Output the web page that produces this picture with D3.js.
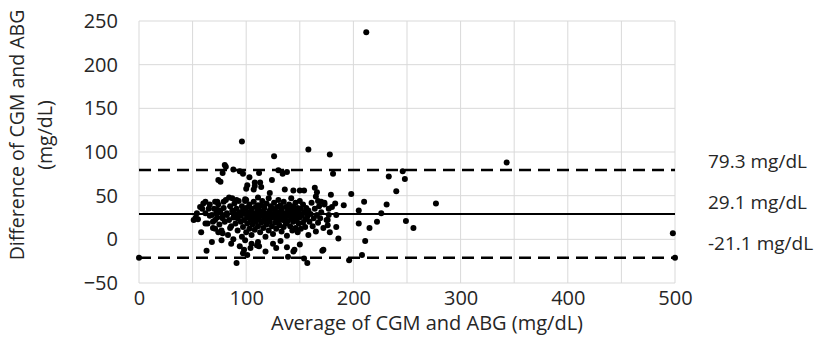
<!DOCTYPE html>
<html>
<head>
<meta charset="utf-8">
<script src="https://cdn.jsdelivr.net/npm/d3@7"></script>
<style>
  body { margin: 0; background: #fff; }
  text { font-family: "Open Sans", sans-serif; fill: #262626; }
</style>
</head>
<body>
<svg id="chart" width="825" height="337"></svg>
<script>
// tick values
var xTicks = [0, 100, 200, 300, 400, 500];
var yTicks = [-50, 0, 50, 100, 150, 200, 250];

// mean bias and limits of agreement
var meanDiff = 29.1;
var upperLoA = 79.3;
var lowerLoA = -21.1;
var limitLabels = ["79.3 mg/dL", "29.1 mg/dL", "-21.1 mg/dL"];

// [average, difference]
var sparsePoints = [
  [212, 237], [498, 7], [500, -21], [0, -21], [343, 88], [277, 41],
  [246, 78], [248, 69], [249, 21], [256, 13], [233, 72], [240, 55], [231, 40],
  [178, 97], [181, 75], [179, 51], [198, 52], [170, 43], [183, 41], [191, 39],
  [210, 43], [177, 35], [205, 33], [226, 30], [177, 28], [184, 28], [176, 22],
  [176, 16], [184, 14], [205, 18], [215, 13], [222, 20], [186, 1], [211, -2],
  [171, -13], [196, -24], [208, -18], [157, -27], [91, -27], [96, 112],
  [126, 95], [158, 103]
];

var clusterPoints = [
  [81, 83], [78, 76], [88, 80], [94, 78], [97, 75], [74, 68], [76, 66],
  [103, 71], [112, 76], [130, 79], [134, 75], [124, 68], [101, 62], [100, 58],
  [113, 65], [114, 60], [136, 57], [144, 56], [150, 56], [154, 56], [164, 59],
  [166, 54], [165, 49], [173, 42], [180, 37], [108, 65], [108, 61], [138, 77],
  [107, 57], [80, 85], [122, 53], [167, 44],
  [51, 22], [53, 25], [57, 37], [60, 41], [71, 43], [73, 34], [62, 18],
  [69, 13], [74, 8], [58, 8], [54, 30], [55, 23], [59, 35], [66, 27], [71, 22],
  [78, 24], [82, 28], [88, 30], [78, 7], [85, 13], [96, 3], [99, -1],
  [105, -5], [104, -10], [68, -3], [63, -13], [97, -16], [77, -1], [110, -7],
  [111, -3], [138, -9], [144, -14], [139, -20], [154, -22], [172, -12],
  [62, 43], [73, 43], [79, 43], [87, 47], [91, 45], [99, 44], [100, 45],
  [111, 39],
  [62, 30], [64, 18], [65, 35], [66, 40], [68, 28], [69, 20], [70, 35],
  [71, 12], [72, 30], [73, 25], [74, 40], [75, 17], [76, 33], [77, 10],
  [78, 28], [79, 36], [80, 20], [81, 45], [83, 5], [84, 48], [86, -5],
  [88, 0], [94, -8], [98, -12], [101, -18], [112, -8], [118, -14], [125, -5],
  [128, -10], [132, -2], [145, -12], [150, -6],
  [82, 30], [84, 22], [85, 38], [86, 15], [87, 33], [88, 25], [89, 41],
  [90, 18], [90, 29], [91, 35], [92, 10], [92, 24], [93, 44], [94, 31],
  [95, 20], [95, 27], [96, 38], [97, 14], [97, 33], [98, 22], [99, 29],
  [99, 46], [100, 8], [100, 36], [101, 25], [101, 18], [102, 31], [103, 40],
  [103, 12], [104, 27], [104, 22], [105, 35], [105, 5], [106, 30], [106, 17],
  [107, 43], [107, 24], [108, 28], [108, 11], [109, 37], [109, 20], [110, 32],
  [110, 26], [111, 15], [111, 48], [112, 23], [112, 34], [113, 29], [113, 8],
  [114, 39], [114, 19], [115, 27], [115, 44], [116, 13], [116, 31], [117, 22],
  [117, 36], [118, 26], [118, 3], [119, 41], [119, 17], [120, 30], [120, 24],
  [121, 47], [121, 10], [122, 33], [122, 20], [123, 28], [123, 38], [124, 15],
  [124, 25], [125, 35], [125, 6], [126, 29], [126, 42], [127, 19], [127, 32],
  [128, 23], [128, 12], [129, 37], [129, 27], [130, 21], [130, 45], [131, 31],
  [131, 16], [132, 26], [132, 39], [133, 9], [133, 34], [134, 22], [134, 29],
  [135, 43], [135, 14], [136, 30], [136, 24], [137, 37], [137, 18], [138, 27],
  [138, 4], [139, 33], [139, 21], [140, 40], [140, 28], [141, 15], [141, 35],
  [142, 24], [142, 47], [143, 30], [143, 10], [144, 20], [144, 38], [145, 26],
  [145, 33], [146, 13], [146, 42], [147, 22], [147, 29], [148, 36], [148, 8],
  [149, 18], [149, 31], [150, 25], [150, 44], [151, 12], [151, 35], [152, 28],
  [153, 19], [153, 40], [154, 31], [155, 14], [155, 23], [156, 36], [157, 26],
  [158, 5], [158, 33], [159, 20], [160, 29], [161, 42], [162, 15], [163, 24],
  [164, 35], [165, 9], [166, 28], [167, 19], [168, 38], [169, 24], [170, 31],
  [172, 13], [173, 40], [175, 22], [178, 8]
];

var margin = {top: 21, right: 150, bottom: 54, left: 139};
var width = 825 - margin.left - margin.right;
var height = 337 - margin.top - margin.bottom;

var svg = d3.select("#chart");
var g = svg.append("g")
  .attr("transform", "translate(" + margin.left + "," + margin.top + ")");

var x = d3.scaleLinear().domain([0, 500]).range([0, width]);
var y = d3.scaleLinear().domain([-50, 250]).range([height, 0]);

// gridlines every 50
g.append("g")
  .selectAll("line")
  .data(d3.range(0, 501, 50))
  .enter().append("line")
  .attr("x1", function(d) { return x(d); })
  .attr("x2", function(d) { return x(d); })
  .attr("y1", 0)
  .attr("y2", height)
  .attr("stroke", "#d9d9d9")
  .attr("stroke-width", 1);

g.append("g")
  .selectAll("line")
  .data(yTicks)
  .enter().append("line")
  .attr("x1", 0)
  .attr("x2", width)
  .attr("y1", function(d) { return y(d); })
  .attr("y2", function(d) { return y(d); })
  .attr("stroke", "#d9d9d9")
  .attr("stroke-width", 1);

// axes (labels only)
var xAxis = g.append("g")
  .attr("transform", "translate(0," + height + ")")
  .call(d3.axisBottom(x).tickValues(xTicks).tickSize(0).tickPadding(8));
xAxis.select(".domain").remove();
xAxis.selectAll("text").style("font-size", "20px").style("font-family", "Open Sans").attr("fill", "#262626");

var yAxis = g.append("g")
  .call(d3.axisLeft(y).tickValues(yTicks).tickSize(0).tickPadding(21));
yAxis.select(".domain").remove();
yAxis.selectAll("text").style("font-size", "20px").style("font-family", "Open Sans").attr("fill", "#262626");

// limit lines
g.append("line")
  .attr("x1", x(0)).attr("x2", x(500))
  .attr("y1", y(meanDiff)).attr("y2", y(meanDiff))
  .attr("stroke", "#000").attr("stroke-width", 2);

[upperLoA, lowerLoA].forEach(function(v) {
  g.append("line")
    .attr("x1", x(0)).attr("x2", x(500))
    .attr("y1", y(v)).attr("y2", y(v))
    .attr("stroke", "#000").attr("stroke-width", 2.5)
    .attr("stroke-dasharray", "12,7");
});

// points
g.append("g")
  .selectAll("circle")
  .data(sparsePoints.concat(clusterPoints))
  .enter().append("circle")
  .attr("cx", function(d) { return x(d[0]); })
  .attr("cy", function(d) { return y(d[1]); })
  .attr("r", 3)
  .attr("fill", "#000");

// right-hand labels
var labelYs = [upperLoA, meanDiff, lowerLoA];
g.selectAll(".limit-label")
  .data(limitLabels)
  .enter().append("text")
  .attr("class", "limit-label")
  .attr("x", width + 33)
  .attr("y", function(d, i) { return y(labelYs[0]) - 9 + i * 41; })
  .attr("dy", "0.35em")
  .style("font-size", "19px")
  .text(function(d) { return d; });

// axis titles
svg.append("text")
  .attr("text-anchor", "middle")
  .attr("x", 427)
  .attr("y", 330)
  .style("font-size", "20px")
  .text("Average of CGM and ABG (mg/dL)");

var yTitle = svg.append("text")
  .attr("text-anchor", "middle")
  .attr("transform", "translate(17,135) rotate(-90)")
  .style("font-size", "19.5px");
yTitle.append("tspan").attr("x", 0).attr("dy", "0.35em").text("Difference of CGM and ABG");
yTitle.append("tspan").attr("x", 0).attr("dy", "1.45em").text("(mg/dL)");
</script>
</body>
</html>
